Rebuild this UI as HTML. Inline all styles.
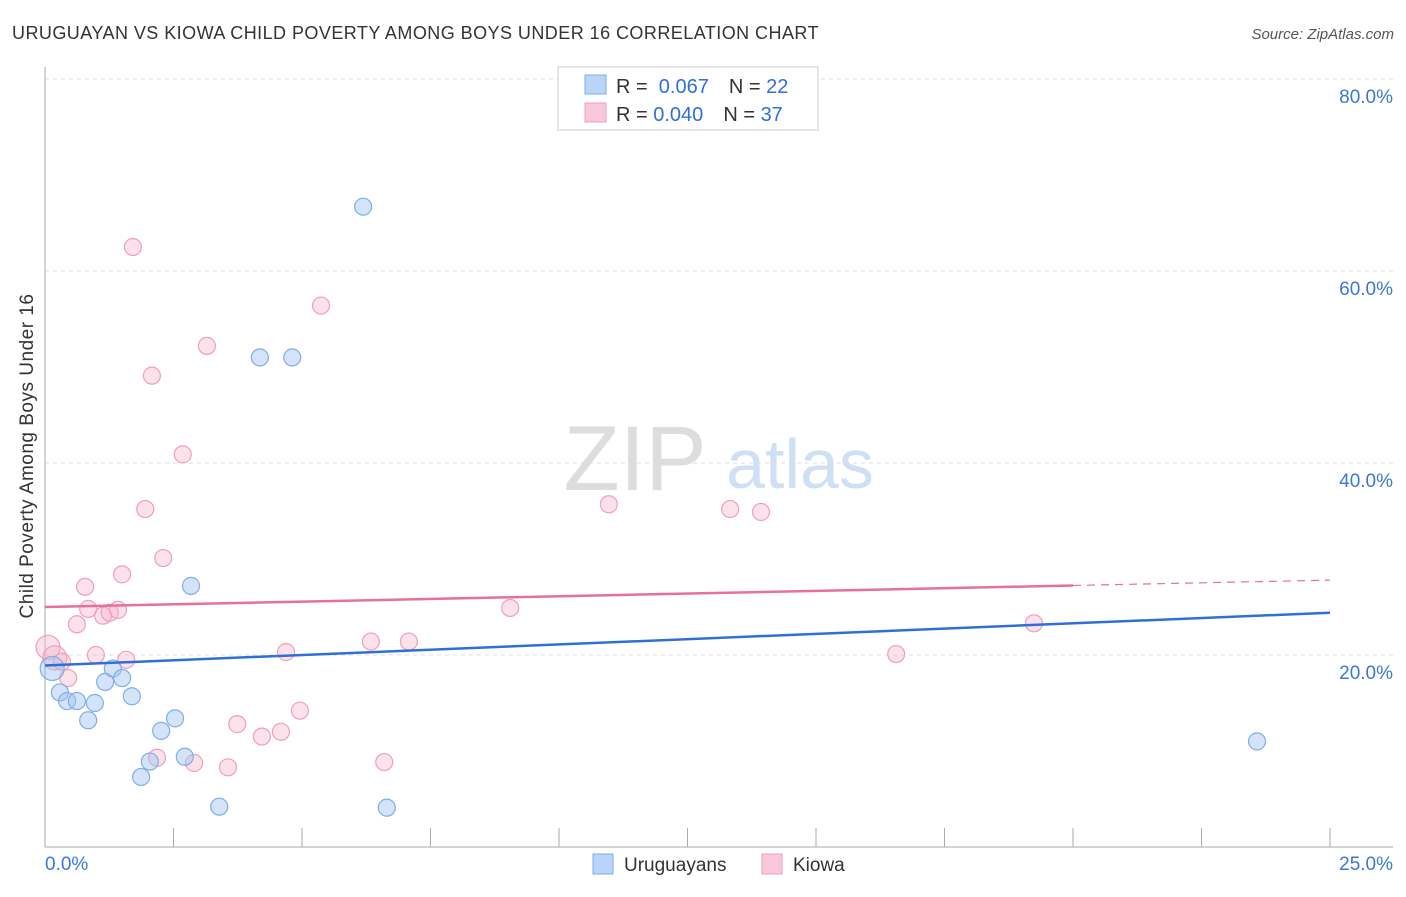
<!DOCTYPE html>
<html><head><meta charset="utf-8"><style>
body{margin:0;background:#fff;font-family:"Liberation Sans",sans-serif;}
svg text{font-family:"Liberation Sans",sans-serif;}
</style></head><body>
<svg id="chart" width="1406" height="892">
<text x="12" y="39" font-size="18" letter-spacing="0.45" fill="#333">URUGUAYAN VS KIOWA CHILD POVERTY AMONG BOYS UNDER 16 CORRELATION CHART</text>
<text x="1394" y="39" font-size="15" fill="#555" font-style="italic" text-anchor="end">Source: ZipAtlas.com</text>
<g>
<text x="635" y="490" font-size="92" fill="#ddd" text-anchor="middle" font-family="Liberation Serif">ZIP</text>
<text x="800" y="488" font-size="70" fill="#cfe0f4" text-anchor="middle">atlas</text>
</g>
<text transform="translate(33,456) rotate(-90)" font-size="19" letter-spacing="0.5" fill="#333" text-anchor="middle">Child Poverty Among Boys Under 16</text>
<g id="grid"></g><g id="axes"></g><g id="marks"></g>
<g>
<rect x="558" y="67" width="260" height="63" fill="#fff" stroke="#ccc"/>
<rect x="585" y="75" width="21" height="19" fill="#b8d4f6" stroke="#7eaee8"/>
<rect x="585" y="103" width="21" height="19" fill="#f9c8d6" stroke="#f0a0b8"/>
<text x="616" y="93" font-size="20" fill="#333">R = <tspan fill="#2f6fd6">&#160;0.067</tspan><tspan dx="20">N = </tspan><tspan fill="#2f6fd6">22</tspan></text>
<text x="616" y="121" font-size="20" fill="#333">R = <tspan fill="#2f6fd6">0.040</tspan><tspan dx="20">N = </tspan><tspan fill="#2f6fd6">37</tspan></text>
</g>
<g>
<rect x="593" y="854" width="20" height="20" fill="#b8d4f6" stroke="#7eaee8"/>
<text x="624" y="871" font-size="19" fill="#333">Uruguayans</text>
<rect x="762" y="854" width="20" height="20" fill="#f9c8d6" stroke="#f0a0b8"/>
<text x="793" y="871" font-size="19" fill="#333">Kiowa</text>
</g>
</svg>
<script>
const yTicks=[20,40,60,80];
const yTickLabels=["20.0%","40.0%","60.0%","80.0%"];
const xTicks=[0,2.5,5,7.5,10,12.5,15,17.5,20,22.5,25];
const blueX=[6.19,4.18,4.81,2.84,0.14,0.29,0.43,0.62,0.84,0.97,1.17,1.32,1.50,1.69,2.26,2.53,2.72,2.04,1.87,3.39,6.65,23.58];
const blueY=[66.7,51.0,51.0,27.2,18.6,16.1,15.2,15.2,13.2,15.0,17.2,18.6,17.6,15.7,12.1,13.4,9.4,8.9,7.3,4.2,4.1,11.0];
const pinkX=[1.71,5.37,3.15,2.08,2.68,1.95,2.30,1.50,0.78,0.84,1.13,1.26,1.42,0.62,0.06,0.19,0.33,0.99,1.58,0.45,4.69,6.34,7.08,10.97,13.33,13.93,9.05,19.24,16.56,3.74,4.22,4.59,4.96,2.18,2.90,3.56,6.60];
const pinkY=[62.5,56.4,52.2,49.1,40.9,35.2,30.1,28.4,27.1,24.8,24.1,24.4,24.7,23.2,20.8,19.7,19.3,20.0,19.5,17.6,20.3,21.4,21.4,35.7,35.2,34.9,24.9,23.3,20.1,12.8,11.5,12.0,14.2,9.3,8.75,8.3,8.85];
const blueTrend=[18.9,24.4];
const pinkTrend=[25.0,27.8];
const NS="http://www.w3.org/2000/svg";
const sx=v=>45+v*51.4, sy=v=>847-v*9.6;
function mk(tag,attrs,parent){const e=document.createElementNS(NS,tag);for(const k in attrs)e.setAttribute(k,attrs[k]);document.getElementById(parent).appendChild(e);return e;}
yTicks.forEach((t,i)=>{
 const l=mk('line',{x1:45,x2:1393,y1:sy(t),y2:sy(t),stroke:'#ddd','stroke-dasharray':'4,4'},'grid');
 
 
 const tx=mk('text',{x:1393,y:sy(t)+24,'font-size':19,fill:'#3a78d6','text-anchor':'end'},'grid');
 tx.textContent=yTickLabels[i];
 
 
});
mk('line',{x1:45,x2:45,y1:67,y2:847,stroke:'#aaa'},'axes');
mk('line',{x1:45,x2:1393,y1:847,y2:847,stroke:'#aaa'},'axes');
xTicks.forEach(t=>{const l=mk('line',{x1:sx(t),x2:sx(t),y1:828,y2:847,stroke:'#aaa'},'axes');
 
 });
let a=mk('text',{x:45,y:870,'font-size':19,fill:'#3a78d6'},'axes');a.textContent='0.0%';


a=mk('text',{x:1393,y:870,'font-size':19,fill:'#3a78d6','text-anchor':'end'},'axes');a.textContent='25.0%';


function pts(X,Y,fill,stroke,name){X.forEach((x,i)=>{const r=(x<0.2)?12:8.5;
 const c=mk('circle',{cx:sx(x),cy:sy(Y[i]),r:r,fill:fill,stroke:stroke,'stroke-width':1.2},'marks');
 
 });}
pts(pinkX,pinkY,'rgba(246,180,200,0.4)','#f0a0b8','kiowa-point');
pts(blueX,blueY,'rgba(160,196,240,0.45)','#7eaee8','uruguayan-point');
const pm=pinkTrend[0]+(pinkTrend[1]-pinkTrend[0])*0.8;
let L=mk('line',{x1:sx(0),y1:sy(pinkTrend[0]),x2:sx(20),y2:sy(pm),stroke:'#e8709a','stroke-width':2.5},'marks');


L=mk('line',{x1:sx(20),y1:sy(pm),x2:sx(25),y2:sy(pinkTrend[1]),stroke:'#e8709a','stroke-width':1.2,'stroke-dasharray':'8,6'},'marks');


L=mk('line',{x1:sx(0),y1:sy(blueTrend[0]),x2:sx(25),y2:sy(blueTrend[1]),stroke:'#2f6fd6','stroke-width':2.5},'marks');


</script>
</body></html>
